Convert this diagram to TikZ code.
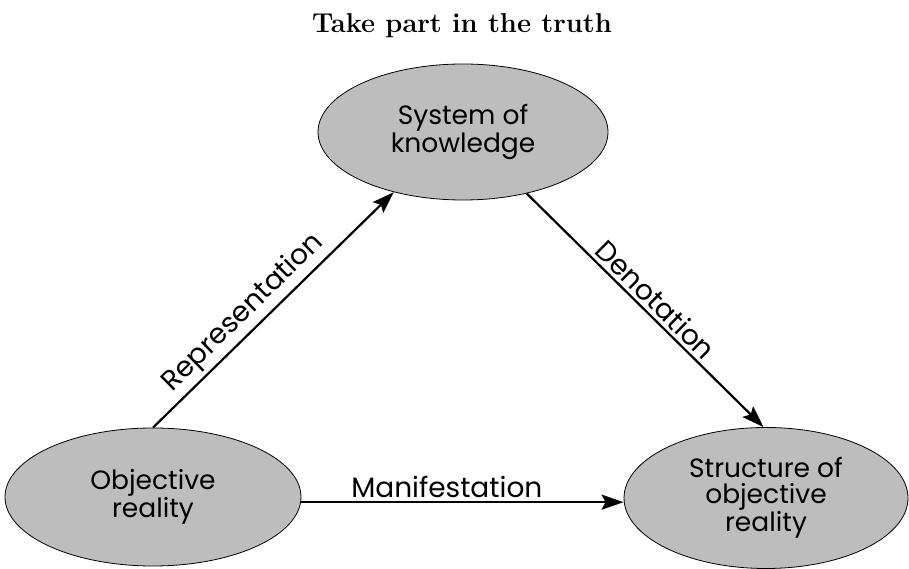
\documentclass[tikz,border=0pt]{standalone}
\usepackage{fontspec}
\newfontfamily\gfont{Poppins}
\usetikzlibrary{shapes.geometric,arrows.meta}
\begin{document}
\begin{tikzpicture}[x=1pt,y=1pt,
  bubble/.style={ellipse, draw=black, line width=0.8pt, fill=black!26, inner sep=0pt, align=center,
    font=\gfont\fontsize{26.5}{26}\selectfont},
  conn/.style={line width=2.2pt, -{Stealth[length=22pt,width=15pt,inset=4pt]}},
  lab/.style={font=\gfont\fontsize{28}{28}\selectfont}]
\useasboundingbox (0,0) rectangle (909,569);
\node[font=\fontsize{27.3}{30}\selectfont\bfseries, anchor=base] (title) at (462,536) {Take part in the truth};
\node[bubble, minimum width=290pt, minimum height=136pt] (K) at (463,437) {System of\\knowledge};
\node[bubble, minimum width=296pt, minimum height=138pt] (O) at (153,72) {Objective\\reality};
\node[bubble, minimum width=284pt, minimum height=141pt] (S) at (766,71) {Structure of\\objective\\reality};
\draw[conn] (O.north) -- node[lab, sloped, above, pos=0.43] {Representation} (K.221);
\draw[conn] (K.316) -- node[lab, sloped, above, pos=0.5] {Denotation} (S.92);
\draw[conn] (O.-2) -- node[lab, above, pos=0.452] {Manifestation} (O.-2 -| S.west);
\end{tikzpicture}
\end{document}
